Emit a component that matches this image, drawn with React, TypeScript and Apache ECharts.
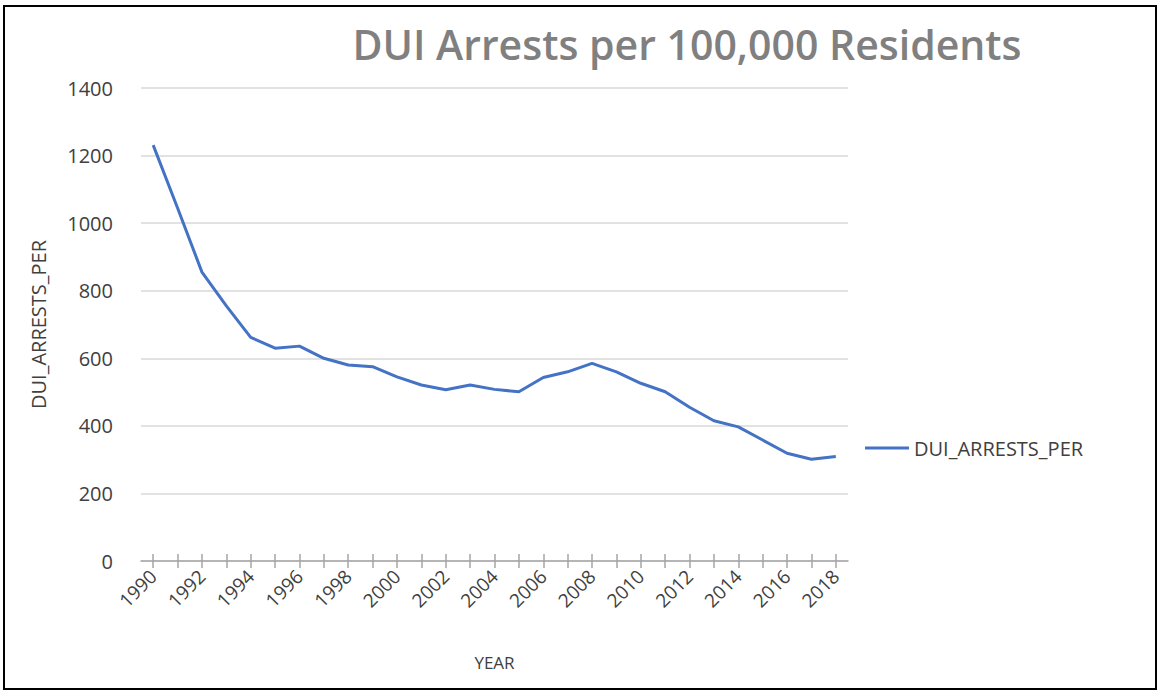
import React, { useEffect, useRef } from "react";
import * as echarts from "echarts";

// Years on the category axis
const years: string[] = [
  "1990", "1991", "1992", "1993", "1994", "1995", "1996", "1997", "1998", "1999",
  "2000", "2001", "2002", "2003", "2004", "2005", "2006", "2007", "2008", "2009",
  "2010", "2011", "2012", "2013", "2014", "2015", "2016", "2017", "2018",
];

// DUI arrests per 100,000 residents, one value per year
const duiArrestsPer: number[] = [
  1231, 1045, 855, 755, 662, 630, 636, 600, 580, 575,
  545, 521, 507, 521, 508, 501, 543, 560, 585, 560,
  526, 501, 455, 415, 397, 358, 319, 301, 309,
];

const yTicks = { min: 0, max: 1400, interval: 200 };

const FONT = "'Open Sans', sans-serif";
const TEXT = "#404040";

export default function App() {
  const ref = useRef<HTMLDivElement>(null);

  useEffect(() => {
    if (!ref.current) return;
    const chart = echarts.init(ref.current, null, { renderer: "svg" });
    chart.setOption({
      animation: false,
      backgroundColor: "#ffffff",
      textStyle: { fontFamily: FONT },
      title: {
        text: "DUI Arrests per 100,000 Residents",
        left: 682,
        top: 18,
        textAlign: "center",
        textStyle: {
          fontFamily: FONT,
          fontSize: 41,
          fontWeight: 600,
          color: "#808080",
        },
      },
      legend: {
        orient: "vertical",
        left: 860,
        top: 433,
        itemWidth: 44,
        itemHeight: 3,
        icon: "rect",
        textStyle: { fontFamily: FONT, fontSize: 20, color: TEXT },
        data: ["DUI_ARRESTS_PER"],
      },
      grid: { left: 141, right: 311, top: 88, bottom: 129, containLabel: false },
      xAxis: [
        {
          type: "category",
          data: years,
          boundaryGap: true,
          name: "YEAR",
          nameLocation: "middle",
          nameGap: 93,
          nameTextStyle: { fontFamily: FONT, fontSize: 17, color: TEXT },
          axisLine: { show: true, lineStyle: { color: "#a6a6a6", width: 1.5 } },
          axisTick: {
            show: true,
            alignWithLabel: true,
            interval: 0,
            length: 7,
            lineStyle: { color: "#a6a6a6", width: 1.5 },
          },
          axisLabel: {
            interval: 1,
            rotate: 45,
            margin: 12,
            fontFamily: FONT,
            fontSize: 19,
            color: TEXT,
          },
          splitLine: { show: false },
        },
        {
          type: "category",
          data: years,
          boundaryGap: true,
          position: "bottom",
          axisLine: { show: false },
          axisTick: {
            show: true,
            inside: true,
            alignWithLabel: true,
            interval: 0,
            length: 7,
            lineStyle: { color: "#a6a6a6", width: 1.5 },
          },
          axisLabel: { show: false },
          splitLine: { show: false },
        },
      ],
      yAxis: {
        type: "value",
        min: yTicks.min,
        max: yTicks.max,
        interval: yTicks.interval,
        name: "DUI_ARRESTS_PER",
        nameLocation: "middle",
        nameGap: 93,
        nameRotate: 90,
        nameTextStyle: { fontFamily: FONT, fontSize: 20, color: TEXT },
        axisLine: { show: false },
        axisTick: { show: false },
        axisLabel: {
          margin: 28,
          fontFamily: FONT,
          fontSize: 20,
          color: TEXT,
          formatter: (v: number) => String(v),
        },
        splitLine: { show: true, lineStyle: { color: "#d9d9d9", width: 1.5 } },
      },
      series: [
        {
          name: "DUI_ARRESTS_PER",
          type: "line",
          xAxisIndex: 0,
          data: duiArrestsPer,
          symbol: "none",
          lineStyle: { color: "#4472C4", width: 3 },
          itemStyle: { color: "#4472C4" },
        },
      ],
      graphic: [
        {
          type: "rect",
          shape: { x: 4, y: 6, width: 1152, height: 683 },
          style: { fill: "none", stroke: "#000000", lineWidth: 2 },
          silent: true,
        },
      ],
    });
    return () => chart.dispose();
  }, []);

  return (
    <div
      ref={ref}
      style={{ position: "fixed", left: 0, top: 0, width: 1159, height: 690 }}
    />
  );
}
